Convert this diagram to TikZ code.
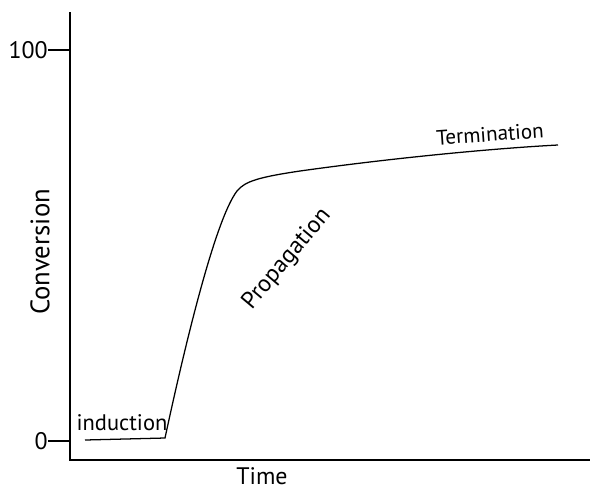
\documentclass[tikz,border=0pt]{standalone}
\usepackage{fontspec}
\setmainfont{PT Sans}
\usepackage{tikz}
\usepackage{xcolor}

\begin{document}
\begin{tikzpicture}[x=0.025cm,y=-0.025cm,
        lbl/.style={font=\fontsize{17}{20}\selectfont,inner sep=0pt}]
        \useasboundingbox (0,0) rectangle (592,489);
        % axes
        \coordinate (top) at (70,12);
        \coordinate (origin) at (70,460);
        \coordinate (right) at (590,460);
        \draw[line width=0.9pt] (top) -- (origin) -- (right);
        % ticks
        \coordinate (t100) at (48,50);
        \coordinate (a100) at (70,50);
        \coordinate (t0) at (48,441);
        \coordinate (a0) at (70,441);
        \draw[line width=0.9pt] (t100) -- (a100);
        \draw[line width=0.9pt] (t0) -- (a0);
        \node[lbl,anchor=east] (n100) at (t100) {100};
        \node[lbl,anchor=east] (n0) at (t0) {0};
        % curve
        \coordinate (start) at (85,440);
        \coordinate (kink) at (165,438);
        \coordinate (knee) at (237,191);
        \coordinate (mid) at (300,171);
        \coordinate (stop) at (558,145);
        \draw[line width=0.9pt] (start) -- (kink)
            .. controls (185,345) and (215,220) .. (knee)
            .. controls (245,181) and (260,177) .. (mid)
            .. controls (400,157) and (500,148) .. (stop);
        % labels
        \node[lbl,font=\fontsize{16}{19}\selectfont] (induction) at (122,423) {induction};
        \node[lbl,rotate=50] (propagation) at (287,259) {Propagation};
        \node[lbl,rotate=4,font=\fontsize{15}{18}\selectfont] (termination) at (490,134) {Termination};
        \node[lbl,rotate=90,font=\fontsize{19}{22}\selectfont] (conversion) at (40,252) {Conversion};
        \node[lbl,anchor=base] (time) at (262,484) {Time};
\end{tikzpicture}
\end{document}
